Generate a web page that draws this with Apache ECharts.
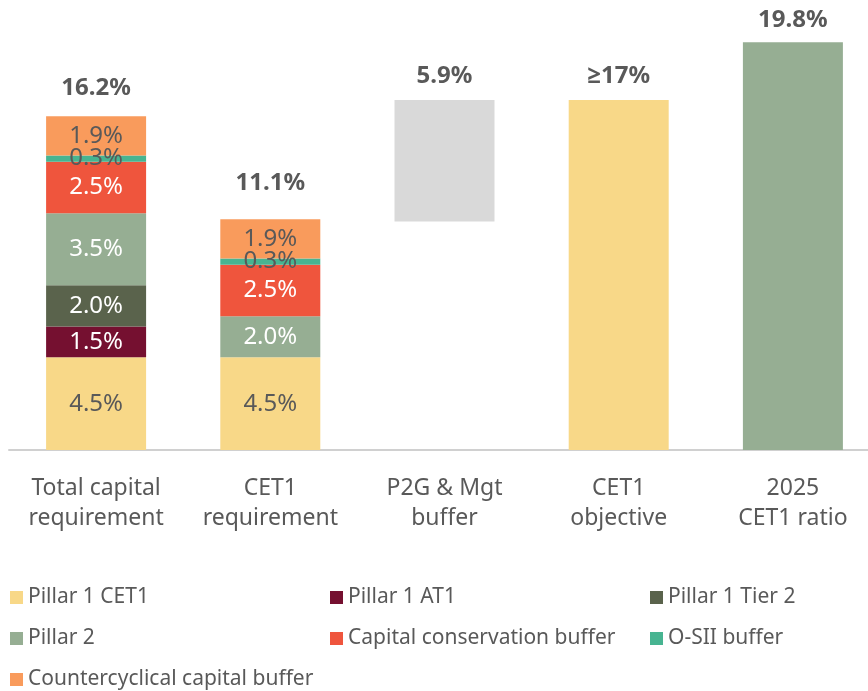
<!DOCTYPE html>
<html>
<head>
<meta charset="utf-8">
<script src="https://cdn.jsdelivr.net/npm/echarts@6/dist/echarts.min.js"></script>
<style>
  html, body { margin: 0; padding: 0; background: #fff; }
  #chart { width: 868px; height: 691px; }
</style>
</head>
<body>
<div id="chart"></div>
<script>
// categories
const categories = ['Total capital\nrequirement', 'CET1\nrequirement', 'P2G & Mgt\nbuffer', 'CET1\nobjective', '2025\nCET1 ratio']

// stacked components (percent)
const pillar1Cet1 = [4.5, 4.5, '-', '-', '-']
const pillar1At1 = [1.5, '-', '-', '-', '-']
const pillar1Tier2 = [2.0, '-', '-', '-', '-']
const pillar2 = [3.5, 2.0, '-', '-', '-']
const conservationBuffer = [2.5, 2.5, '-', '-', '-']
const osiiBuffer = [0.3, 0.3, '-', '-', '-']
const countercyclicalBuffer = [1.9, 1.9, '-', '-', '-']

// waterfall / single bars
const p2gBase = ['-', '-', 11.1, '-', '-']
const p2gBuffer = ['-', '-', 5.9, '-', '-']
const cet1Objective = ['-', '-', '-', 17, '-']
const cet1Ratio = ['-', '-', '-', '-', 19.8]

const totalLabels = ['16.2%', '11.1%', '5.9%', '≥17%', '19.8%']

const FONT = '"Noto Sans", "Open Sans", sans-serif'
const GREY_TEXT = '#595959'
const topLabelGap = [16, 24, 12, 12, 10]

const chart = echarts.init(document.getElementById('chart'))

function segment(name, data, color, labelColor) {
  return {
    name: name,
    type: 'bar',
    stack: 'total',
    barWidth: 100,
    data: data,
    itemStyle: { color: color },
    label: {
      show: true,
      position: 'inside',
      color: labelColor,
      fontFamily: FONT,
      fontSize: 24,
      formatter: p => (typeof p.value === 'number' ? p.value.toFixed(1) + '%' : '')
    },
    emphasis: { disabled: true }
  }
}

function plain(name, data, color) {
  return {
    name: name,
    type: 'bar',
    stack: 'total',
    barWidth: 100,
    data: data,
    itemStyle: { color: color },
    emphasis: { disabled: true }
  }
}

const legendText = { color: GREY_TEXT, fontFamily: FONT, fontSize: 21, lineHeight: 21 }
const legendBase = {
  orient: 'vertical',
  top: 587,
  icon: 'rect',
  itemWidth: 13,
  itemHeight: 13,
  itemGap: 20,
  padding: 0,
  textStyle: legendText,
  selectedMode: false
}

chart.setOption({
  animation: false,
  backgroundColor: '#fff',
  grid: { left: 9, top: 0, width: 871, height: 450, containLabel: false, outerBoundsMode: 'none' },
  legend: [
    Object.assign({ left: 10, data: ['Pillar 1 CET1', 'Pillar 2', 'Countercyclical capital buffer'] }, legendBase),
    Object.assign({ left: 330, data: ['Pillar 1 AT1', 'Capital conservation buffer'] }, legendBase),
    Object.assign({ left: 650, data: ['Pillar 1 Tier 2', 'O-SII buffer'] }, legendBase)
  ],
  xAxis: {
    type: 'category',
    data: categories,
    axisLine: { lineStyle: { color: '#D0D0D0', width: 2 } },
    axisTick: { show: false },
    axisLabel: {
      interval: 0,
      margin: 23,
      color: GREY_TEXT,
      fontFamily: FONT,
      fontSize: 23,
      lineHeight: 30
    }
  },
  yAxis: {
    type: 'value',
    min: 0,
    max: 21.85,
    show: false,
    splitLine: { show: false }
  },
  series: [
    segment('Pillar 1 CET1', pillar1Cet1, '#F8D888', GREY_TEXT),
    segment('Pillar 1 AT1', pillar1At1, '#751030', '#fff'),
    segment('Pillar 1 Tier 2', pillar1Tier2, '#5A634C', '#fff'),
    segment('Pillar 2', pillar2, '#96AE93', '#fff'),
    segment('Capital conservation buffer', conservationBuffer, '#EF553D', '#fff'),
    segment('O-SII buffer', osiiBuffer, '#47B491', GREY_TEXT),
    segment('Countercyclical capital buffer', countercyclicalBuffer, '#F99B5C', GREY_TEXT),
    plain('P2G base', p2gBase, 'rgba(0,0,0,0)'),
    plain('P2G & Mgt buffer', p2gBuffer, '#D9D9D9'),
    plain('CET1 objective', cet1Objective, '#F8D888'),
    plain('2025 CET1 ratio', cet1Ratio, '#96AE93'),
    {
      name: 'Totals',
      type: 'bar',
      stack: 'total',
      barWidth: 100,
      data: totalLabels.map((t, i) => ({
        value: 0,
        label: { distance: topLabelGap[i] }
      })),
      itemStyle: { color: 'rgba(0,0,0,0)' },
      label: {
        show: true,
        position: 'top',
        color: GREY_TEXT,
        fontFamily: FONT,
        fontWeight: 'bold',
        fontSize: 24,
        formatter: p => totalLabels[p.dataIndex]
      },
      emphasis: { disabled: true }
    }
  ]
})
</script>
</body>
</html>
